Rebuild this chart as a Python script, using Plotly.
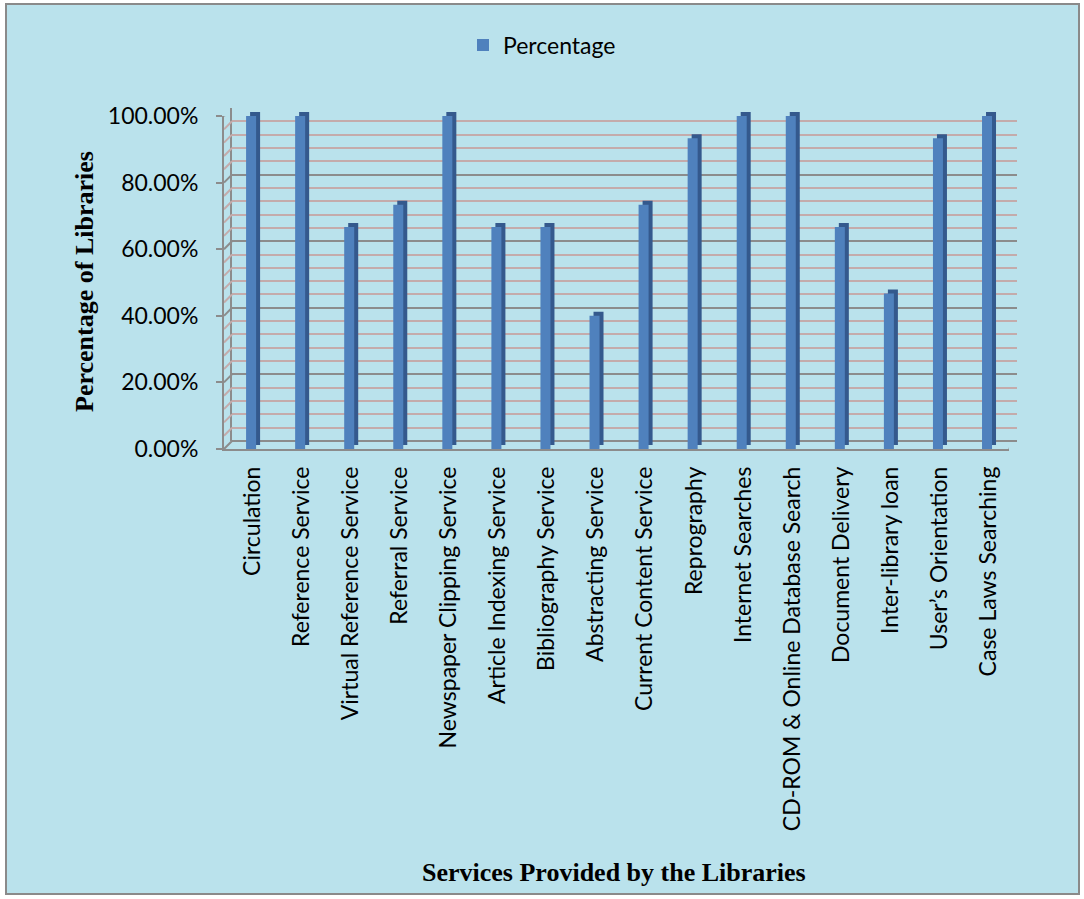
import plotly.graph_objects as go

services = [
    "Circulation", "Reference Service", "Virtual Reference Service", "Referral Service",
    "Newspaper Clipping Service", "Article Indexing Service", "Bibliography Service",
    "Abstracting Service", "Current Content Service", "Reprography", "Internet Searches",
    "CD-ROM & Online Database Search", "Document Delivery", "Inter-library loan",
    "User\u2019s Orientation", "Case Laws Searching",
]
percentage = [1.0, 1.0, 0.6667, 0.7333, 1.0, 0.6667, 0.6667, 0.40, 0.7333, 0.9333,
              1.0, 1.0, 0.6667, 0.4667, 0.9333, 1.0]
y_ticks = [0, 0.2, 0.4, 0.6, 0.8, 1.0]
grid_minor = [i * 0.04 for i in range(26)]

W, H = 1084, 899
def dx(a, b):
    return [a / W, b / W]
def dy(top, bottom):
    return [1 - bottom / H, 1 - top / H]

FRONT = "#4F81BD"
SIDE = "#34598D"
MAJOR = "#8C8C8C"
MINOR = "#C4ABAB"
LABEL_FONT = "Lato"

fig = go.Figure()
# back wall (grid holder)
fig.add_trace(go.Scatter(x=[], y=[], xaxis="x", yaxis="y", showlegend=False, hoverinfo="skip"))
# side (depth) of the bars on the mid plane
fig.add_trace(go.Bar(x=services, y=percentage, xaxis="x2", yaxis="y2",
                     marker=dict(color=SIDE, line=dict(width=0)),
                     width=0.204, offset=-0.05, showlegend=False, hoverinfo="skip"))
# front face of bars on front plane
fig.add_trace(go.Bar(x=services, y=percentage, xaxis="x3", yaxis="y3", name="Percentage",
                     marker=dict(color=FRONT, line=dict(width=0)),
                     width=0.204, offset=-0.05))

n = len(services)
xr = [-0.5, n - 0.5]

shapes = [
    dict(type="rect", xref="paper", yref="paper", x0=6 / W, x1=1079 / W, y0=1 - 894 / H, y1=1 - 4 / H,
         fillcolor="#bae2ec", line=dict(color="#8a8a8a", width=2), layer="below"),
]
for v in grid_minor:
    major = round(v * 100) % 20 == 0
    shapes.append(dict(type="line", xref="x3", yref="y3", xsizemode="pixel", ysizemode="pixel",
                       xanchor=-0.5, yanchor=v, x0=0, x1=8, y0=0, y1=8,
                       line=dict(color=MAJOR if major else MINOR, width=2), layer="below"))
shapes.append(dict(type="line", xref="x3", yref="y3", xsizemode="pixel", ysizemode="pixel",
                   xanchor=n - 0.5, yanchor=0, x0=0, x1=8, y0=0, y1=8,
                   line=dict(color=MAJOR, width=2), layer="below"))

fig.update_layout(
    width=W, height=H,
    margin=dict(l=0, r=0, t=0, b=0, pad=0),
    paper_bgcolor="white",
    plot_bgcolor="rgba(0,0,0,0)",
    barmode="overlay",
    shapes=shapes,
    font=dict(family=LABEL_FONT, color="black"),
    # back wall with grid
    xaxis=dict(domain=dx(232, 1017), range=xr, showgrid=False, showticklabels=False,
               zeroline=False, showline=False, anchor="y", automargin=False, ticks=""),
    yaxis=dict(domain=dy(108, 441), range=[0, 1], showticklabels=False, anchor="x",
               automargin=False, ticks="",
               showgrid=True, gridcolor=MAJOR, gridwidth=2, dtick=0.2, tick0=0,
               minor=dict(dtick=0.04, showgrid=True, gridcolor=MINOR, gridwidth=2),
               zeroline=True, zerolinecolor=MAJOR, zerolinewidth=2,
               showline=True, linecolor=MAJOR, linewidth=2),
    # mid plane (bar sides, category labels)
    xaxis2=dict(domain=dx(228, 1013), range=xr, type="category", categoryarray=services,
                categoryorder="array", anchor="y2", showgrid=False, zeroline=False,
                automargin=False,
                showline=False, ticks="", tickangle=-90, ticklabelstandoff=16,
                tickfont=dict(family=LABEL_FONT, size=23, color="black")),
    yaxis2=dict(domain=dy(112, 445), range=[0, 1], anchor="x2", showgrid=False,
                automargin=False, ticks="",
                showticklabels=False, zeroline=False, showline=False),
    # front plane (bar faces, y tick labels)
    xaxis3=dict(domain=dx(224, 1009), range=xr, type="category", categoryarray=services,
                categoryorder="array", anchor="y3", showgrid=False, zeroline=False,
                automargin=False,
                showticklabels=False, ticks="", showline=True, linecolor=MAJOR, linewidth=2),
    yaxis3=dict(domain=dy(116, 449), range=[0, 1], anchor="x3", showgrid=False,
                automargin=False,
                zeroline=False, tickvals=y_ticks, tickformat=".2%",
                ticks="outside", ticklen=6, tickcolor=MAJOR, tickwidth=2,
                showline=True, linecolor=MAJOR, linewidth=2, ticklabelstandoff=13,
                tickfont=dict(family=LABEL_FONT, size=23, color="black")),
    legend=dict(orientation="h", x=463 / W, y=1 - 45 / H, xanchor="left", yanchor="middle",
                bgcolor="rgba(0,0,0,0)", font=dict(family=LABEL_FONT, size=23, color="black")),
    annotations=[
        dict(text="<b>Percentage of Libraries</b>", xref="paper", yref="paper",
             x=84 / W, y=1 - 282 / H, xanchor="center", yanchor="middle",
             textangle=-90, showarrow=False,
             font=dict(family="Liberation Serif", size=26, color="black")),
        dict(text="<b>Services Provided by the Libraries</b>", xref="paper", yref="paper",
             x=614 / W, y=1 - 872 / H, xanchor="center", yanchor="middle", showarrow=False,
             font=dict(family="Liberation Serif", size=26, color="black")),
    ],
)

fig.write_html("out.html")
